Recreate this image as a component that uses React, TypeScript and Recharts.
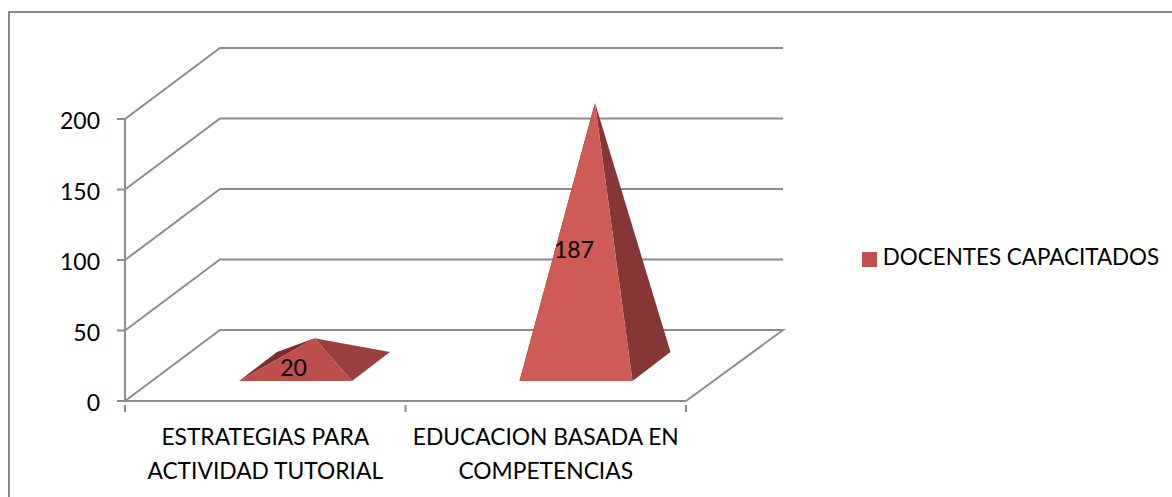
import { BarChart, Bar, XAxis, YAxis, CartesianGrid, Legend, LabelList } from 'recharts';

const CATEGORIES = ['ESTRATEGIAS PARA ACTIVIDAD TUTORIAL', 'EDUCACION BASADA EN COMPETENCIAS'];
const CATEGORY_LINES = [
  ['ESTRATEGIAS PARA', 'ACTIVIDAD TUTORIAL'],
  ['EDUCACION BASADA EN', 'COMPETENCIAS'],
];
const DOCENTES = [20, 187];
const Y_TICKS = [0, 50, 100, 150, 200];

const FONT = 'Lato, Carlito, sans-serif';
const GRID = '#8c8c8c';
const FRONT = ['#bd4f4c', '#cf5b57'];
const RIGHT = ['#9a403e', '#863635'];
const LEFT = ['#7d2f2d', '#7d2f2d'];

// fake 3D offsets
const WALL_DX = 95;
const WALL_DY = 71;
const BAR_DX = 30;
const BAR_DY = 20;
const BASE_DX = 38;
const BASE_DY = 29;

const data = CATEGORIES.map((name, i) => ({ name, value: DOCENTES[i], lines: CATEGORY_LINES[i] }));

function WallLine({ x1, x2, y1, index }: any) {
  const backY = y1 - WALL_DY;
  const isFloor = index === 0;
  return (
    <g key={index}>
      <polyline
        points={`${x1},${y1} ${x1 + WALL_DX},${backY} ${x2 + WALL_DX + 2},${backY}${isFloor ? ` ${x2},${y1}` : ''}`}
        fill="none"
        stroke={GRID}
        strokeWidth={2}
      />
    </g>
  );
}

function Pyramid({ x, y, width, height, index }: any) {
  const left = x + BAR_DX;
  const right = left + width;
  const base = y + height - BAR_DY;
  const backY = base - BASE_DY;
  const apexX = left + width / 2 + BASE_DX / 2;
  const apexY = base - BASE_DY / 2 - height;
  return (
    <g>
      <polygon points={`${left},${base} ${left + BASE_DX},${backY} ${apexX},${apexY}`} fill={LEFT[index]} />
      <polygon points={`${right},${base} ${right + BASE_DX},${backY} ${apexX},${apexY}`} fill={RIGHT[index]} />
      <polygon points={`${left},${base} ${right},${base} ${apexX},${apexY}`} fill={FRONT[index]} />
    </g>
  );
}

// tick marks sit on the category boundaries, labels on the category centres
function CategoryTick({ x, y, index, width, visibleTicksCount }: any) {
  const band = width / visibleTicksCount;
  const axisY = y - 4;
  return (
    <g>
      <line x1={x - band / 2} x2={x - band / 2} y1={axisY} y2={axisY + 7} stroke={GRID} strokeWidth={2} />
      {index === visibleTicksCount - 1 && (
        <line x1={x + band / 2} x2={x + band / 2} y1={axisY} y2={axisY + 7} stroke={GRID} strokeWidth={2} />
      )}
      <text x={x} y={axisY} textAnchor="middle" fontFamily={FONT} fontSize={22.8} fill="#000">
        {CATEGORY_LINES[index].map((line, i) => (
          <tspan key={line} x={x} dy={i === 0 ? 40 : 34}>
            {line}
          </tspan>
        ))}
      </text>
    </g>
  );
}

function ValueLabel({ x, y, width, height, value }: any) {
  return (
    <text
      x={x + width / 2 + BAR_DX - 2}
      y={y + height / 2 - BAR_DY}
      textAnchor="middle"
      dominantBaseline="central"
      fontFamily={FONT}
      fontSize={23}
      fill="#000"
    >
      {value}
    </text>
  );
}

export default function App() {
  return (
    <div style={{ position: 'fixed', left: 0, top: 0, width: 1172, height: 497, background: '#fff', overflow: 'hidden' }}>
      <div style={{ position: 'absolute', left: 8, top: 11, width: 1172, height: 497, borderLeft: '2px solid #8c8c8c', borderTop: '2px solid #8c8c8c' }} />
      <div style={{ position: 'absolute', left: 0, top: 0 }}>
        <BarChart width={1172} height={497} data={data} margin={{ top: 119, right: 486, bottom: 0, left: 55 }}>
          <CartesianGrid vertical={false} horizontal={WallLine} />
          <XAxis
            dataKey="name"
            interval={0}
            height={96}
            tick={CategoryTick}
            tickLine={false}
            axisLine={{ stroke: GRID, strokeWidth: 2 }}
          />
          <YAxis
            width={70}
            domain={[0, 200]}
            ticks={Y_TICKS}
            tickSize={8}
            tickMargin={17}
            tick={{ fontFamily: FONT, fontSize: 23, fill: '#000', dy: 2 }}
            tickLine={{ stroke: GRID, strokeWidth: 2 }}
            axisLine={{ stroke: GRID, strokeWidth: 2 }}
          />
          <Bar dataKey="value" name="DOCENTES CAPACITADOS" fill="#c0504d" barSize={113} shape={Pyramid} isAnimationActive={false}>
            <LabelList dataKey="value" content={ValueLabel} />
          </Bar>
          <Legend
            layout="horizontal"
            align="center"
            verticalAlign="middle"
            iconType="square"
            iconSize={15}
            wrapperStyle={{ position: 'absolute', left: 859, top: 243, width: 313, fontFamily: FONT, fontSize: 22.4 }}
            formatter={(v: string) => <span style={{ color: '#000', marginLeft: 2 }}>{v}</span>}
          />
        </BarChart>
      </div>
    </div>
  );
}
